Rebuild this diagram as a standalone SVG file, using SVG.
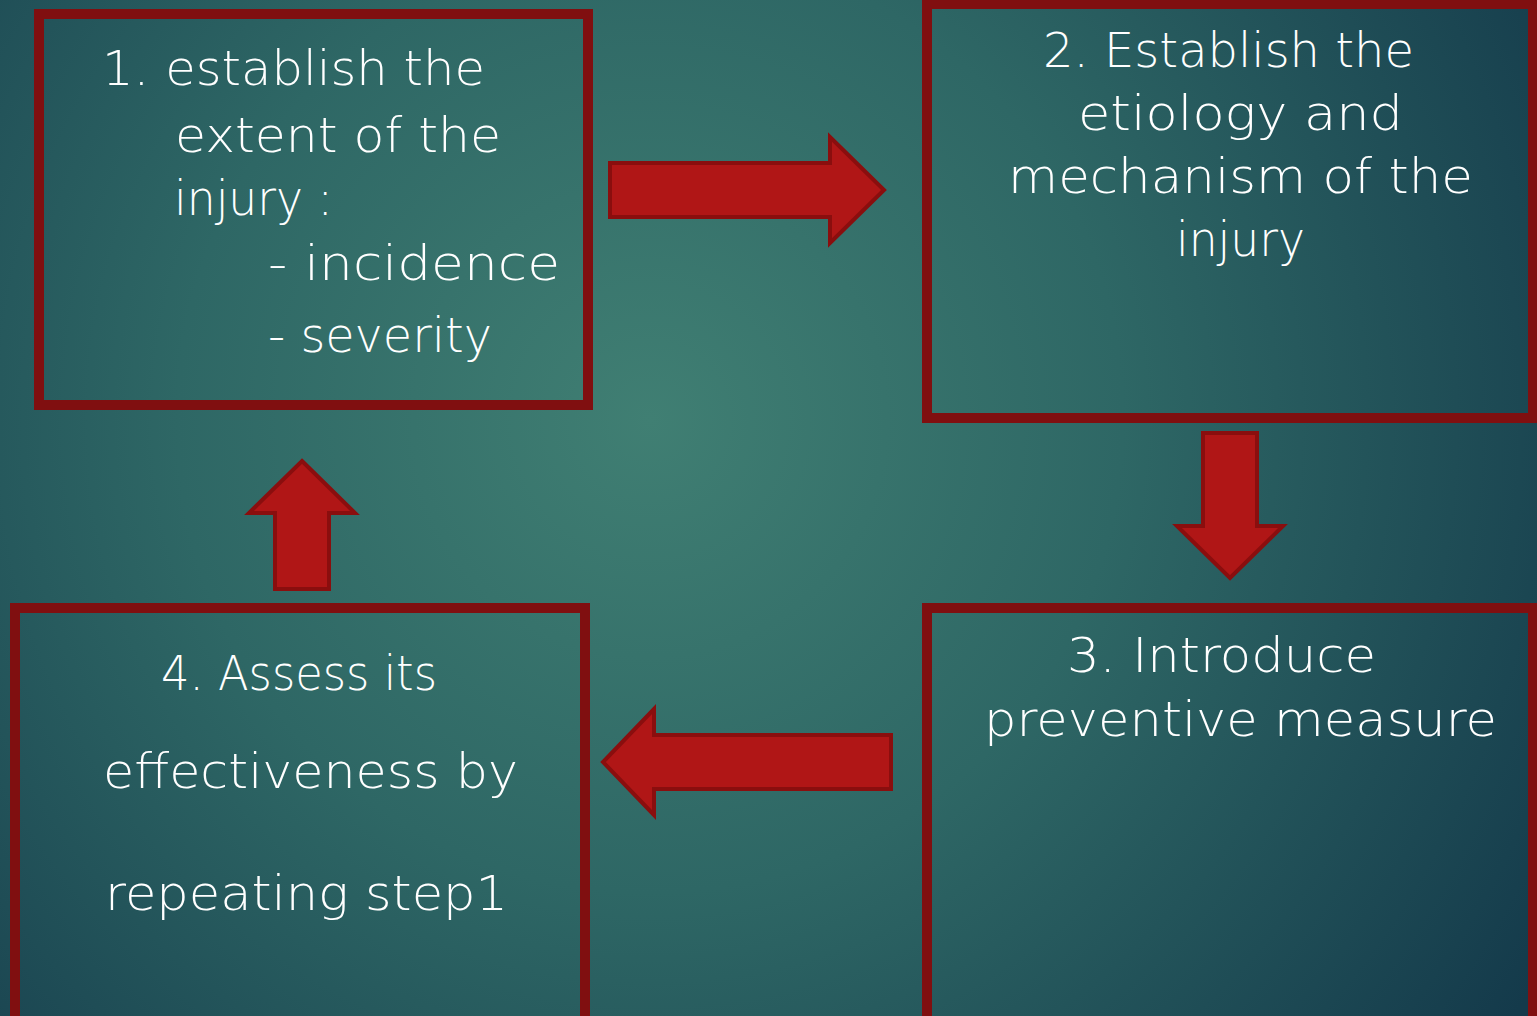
<svg xmlns="http://www.w3.org/2000/svg" width="1537" height="1016" viewBox="0 0 1537 1016">
<defs>
<radialGradient id="bg" cx="650" cy="420" r="1050" gradientUnits="userSpaceOnUse">
<stop offset="0" stop-color="#407f73"/>
<stop offset="0.45" stop-color="#2e6765"/>
<stop offset="1" stop-color="#143a4b"/>
</radialGradient>
<style>
.box{fill:none;stroke:#800f10;stroke-width:10}
.arr{fill:#b01616;stroke:#8a0e0e;stroke-width:4;stroke-linejoin:miter}
text{font-family:"DejaVu Sans","Liberation Sans",sans-serif;font-size:48px;fill:#ffffff;font-weight:300}
</style>
</defs>
<rect width="1537" height="1016" fill="url(#bg)"/>
<g id="connectors">
<polygon class="arr" points="610,163 830,163 830,137 884,190 830,243 830,217 610,217"/>
<polygon class="arr" points="1203,433 1257,433 1257,526 1283,526 1230,578 1177,526 1203,526"/>
<polygon class="arr" points="891,735 654,735 654,709 603,762 654,815 654,789 891,789"/>
<polygon class="arr" points="302,461 355,513 329,513 329,589 275,589 275,513 249,513"/>
</g>
<g id="node1">
<rect class="box" x="39" y="14" width="549" height="391"/>
<text x="102" y="85" textLength="383" lengthAdjust="spacingAndGlyphs">1. establish the</text>
<text x="175" y="152" textLength="326" lengthAdjust="spacingAndGlyphs">extent of the</text>
<text x="174" y="215" textLength="159" lengthAdjust="spacingAndGlyphs">injury :</text>
<text x="268" y="280" textLength="292" lengthAdjust="spacingAndGlyphs">- incidence</text>
<text x="268" y="352" textLength="224" lengthAdjust="spacingAndGlyphs">- severity</text>
</g>
<g id="node2">
<rect class="box" x="927" y="4" width="606" height="414"/>
<text x="1043" y="67" textLength="371" lengthAdjust="spacingAndGlyphs">2. Establish the</text>
<text x="1078" y="130" textLength="325" lengthAdjust="spacingAndGlyphs">etiology and</text>
<text x="1008" y="193" textLength="465" lengthAdjust="spacingAndGlyphs">mechanism of the</text>
<text x="1176" y="256" textLength="129" lengthAdjust="spacingAndGlyphs">injury</text>
</g>
<g id="node3">
<rect class="box" x="927" y="608" width="606" height="420"/>
<text x="1067" y="672" textLength="309" lengthAdjust="spacingAndGlyphs">3. Introduce</text>
<text x="984" y="736" textLength="513" lengthAdjust="spacingAndGlyphs">preventive measure</text>
</g>
<g id="node4">
<rect class="box" x="15" y="608" width="570" height="420"/>
<text x="161" y="690" textLength="276" lengthAdjust="spacingAndGlyphs">4. Assess its</text>
<text x="103" y="788" textLength="415" lengthAdjust="spacingAndGlyphs">effectiveness by</text>
<text x="105" y="910" textLength="403" lengthAdjust="spacingAndGlyphs">repeating step1</text>
</g>
</svg>
